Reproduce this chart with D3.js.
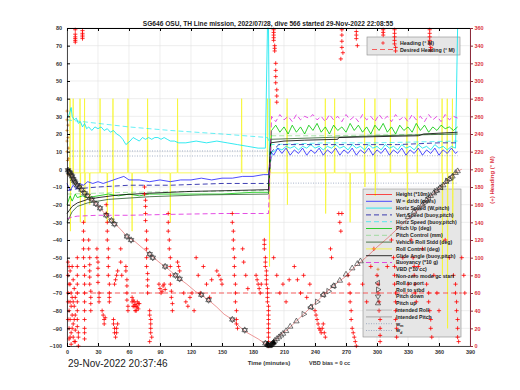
<!DOCTYPE html>
<html>
<head>
<meta charset="utf-8">
<script src="https://cdn.jsdelivr.net/npm/d3@7"></script>
<style>body{margin:0;background:#fff}</style>
</head>
<body>
<div id="chart"></div>
<script>
const WIDTH = 520, HEIGHT = 390;
const M = {left: 67, top: 28};
const PW = 403, PH = 318;

// ---- data ----
const xTicks = [0, 30, 60, 90, 120, 150, 180, 210, 240, 270, 300, 330, 360, 390];
const yTicks = [-100, -90, -80, -70, -60, -50, -40, -30, -20, -10, 0, 10, 20, 30, 40, 50, 60, 70, 80];
const rTicks = [0, 20, 40, 60, 80, 100, 120, 140, 160, 180, 200, 220, 240, 260, 280, 300, 320, 340, 360];

// depth (height *10m), time in minutes
const depth = [[0,0],[2,-1.5],[4,-3],[6,-5.5],[9,-8],[12,-10],[16,-13],[20,-15],[25,-17.5],[32,-22],[38,-26],[45,-30],
  [52,-34],[58,-38],[66,-41],[74,-45],[82,-49],[90,-53],[97,-56],[103,-59],[109,-62],[116,-65],[124,-69],[132,-72],
  [139,-75],[145,-78],[152,-82],[160,-85],[167,-89],[173,-92],[179,-94],[185,-96],[190,-98],[195,-99.5],[197,-100],
  [199,-98],[203,-96],[206,-94],[210,-92],[213,-91],[220,-87],[229,-82],[238,-77],[245,-73],[251,-69.5],[258,-66],
  [264,-63],[269,-61],[277,-56],[283,-53],[292,-48.5],[300,-44],[310,-39],[320,-33.5],[330,-28],[340,-23],[348,-17.5],
  [356,-13],[364,-9],[371,-5],[378,-1],[382,0]];

const diveMarks = [[1,-0.5],[2,-1.5],[3,-2],[4,-3],[5,-4],[6,-5.5],[7,-6.5],[8,-7.5],[10,-9],[12,-10],[14,-11.5],
  [17,-13.5],[20,-15],[24,-17],[28,-19.5],[32,-22],[38,-26],[43,-29],[46,-31],[58,-38],[62,-40],[80,-48],[83,-50],
  [95,-55],[105,-60],[109,-62],[130,-71],[137,-74],[160,-85],[172,-91],[192,-98.5]];
const pitchUpMarks = [[201,-97],[203,-96],[205,-95],[207,-94],[209,-93],[212,-91.5],[216,-89],[222,-86],[236,-78],
  [248,-71],[258,-66],[264,-63],[270,-59.5],[276,-56],[281,-53.5],[284,-52],[330,-27],[336,-24],[340,-22],[344,-20],
  [348,-17.5],[352,-15],[355,-13.5],[358,-12],[361,-10.5],[364,-9],[367,-7],[370,-5.5],[373,-4],[376,-2],[378,-1]];
const rollPortMarks = [[236,-78],[248,-71],[258,-66],[350,-16],[362,-10],[372,-4.5]];
const rollStbdMarks = [[229,-82],[242,-75],[253,-69],[346,-19],[357,-12.5],[368,-6.5]];
const bottomMarks = [[194,-99],[195,-99.5],[196,-100],[197,-99.5],[198,-99],[199,-98.5],[200,-98]];

// heading (deg M)
const heading = [[1,95],[1,80],[1,60],[2,40],[2,20],[2,8],[3,70],[3,50],[3,30],[4,15],[4,2],[5,90],[5,55],[5,35],
  [6,25],[6,10],[7,45],[7,65],[8,18],[8,5],[8,358],[8,353],[8,348],[8,344],[15,357],[15,352],[15,348],
  [10,100],[10,80],[10,60],[10,40],[10,22],[11,10],[11,0],[16,140],[16,120],[16,100],[17,80],[17,60],[17,40],[17,20],[17,8],
  [21,120],[22,100],[22,85],[22,70],[23,55],[23,40],[29,110],[30,95],[30,80],[31,60],[31,50],
  [34,40],[35,35],[36,30],[36,25],[37,32],[38,160],[39,140],[39,120],[40,100],[40,80],[41,60],[41,50],
  [45,30],[46,20],[47,10],[48,15],[49,25],[46,70],[48,80],[52,110],[52,95],[53,80],
  [57,90],[58,75],[58,60],[59,45],[59,40],[63,55],[64,45],[65,50],[66,40],[67,45],[68,50],[69,42],[70,48],
  [75,180],[76,165],[76,150],[77,130],[77,110],[77,90],[78,75],[78,60],[80,40],[81,30],[81,20],[82,10],
  [89,70],[90,65],[91,60],[92,62],[93,68],[94,70],[95,64],[98,150],[98,130],[99,110],[100,90],[100,70],[101,55],[102,40],
  [107,95],[108,90],[109,85],[113,60],[115,50],[117,45],[119,55],[121,60],[123,40],
  [125,100],[127,80],[129,60],[132,90],[135,70],[138,55],[140,75],[145,85],[147,80],[149,75],[150,70],
  [160,150],[161,130],[161,110],[162,90],[163,70],[163,50],[164,30],[165,20],[170,110],[171,95],[173,80],[175,65],
  [183,80],[184,75],[185,70],[186,65],[187,60],[188,70],
  [191,120],[191,110],[192,100],[192,90],[193,80],[193,70],[194,60],[194,50],[195,40],[195,30],[195,20],[195,10],[195,0],
  [200,358],[200,352],[200,346],[201,340],[201,334],[202,320],[202,305],[203,290],[203,276],
  [200,100],[203,80],[206,60],[209,70],[212,50],[215,75],[220,90],[223,75],[226,60],[229,80],[232,55],[235,70],
  [240,40],[242,30],[244,20],[246,15],[248,25],[250,10],[255,110],[256,100],[263,150],[264,140],[265,130],[266,150],
  [266,358],[266,345],[267,332],[265,325],[272,80],[274,60],[275,40],[276,20],[278,10],[280,0],[280,356],[280,348],[281,340],
  [286,70],[290,50],[294,90],[297,110],[300,80],[301,60],[302,40],[303,20],[303,5],[306,358],[306,352],
  [310,90],[314,120],[316,100],[317,80],[318,60],[318,40],[319,20],[317,358],[317,350],[317,342],[318,334],
  [325,100],[330,70],[333,120],[335,100],[336,80],[337,60],[340,90],[344,110],[348,70],[350,50],[352,30],[355,80],
  [358,60],[360,40],[351,358],[351,350],[351,342],[352,335],
  [366,120],[370,100],[374,80],[376,60],[377,40],[378,20],[379,5],[382,100],[384,80],[385,60],
  [1,50],[1,30],[2,90],[2,70],[3,10],[3,85],[4,45],[4,60],[5,20],[6,75],[6,50],[7,30],[7,5],[8,35],[8,55],
  [10,90],[10,70],[10,50],[10,30],[11,15],[16,130],[16,110],[17,90],[17,70],[17,50],[17,30],[17,15],
  [21,110],[22,92],[22,78],[23,62],[23,48],[29,100],[30,88],[30,72],[31,55],
  [38,150],[39,130],[40,110],[40,90],[41,70],[41,55],[45,25],[46,15],[48,20],[47,75],[49,85],
  [57,85],[58,68],[58,52],[63,50],[65,45],[67,40],[69,48],[64,52],[66,47],[68,44],
  [75,172],[76,158],[76,142],[77,120],[77,100],[78,82],[78,68],[80,35],[81,25],[81,15],[80,5],
  [98,140],[99,120],[100,100],[100,80],[101,62],[102,48],[160,140],[161,120],[162,100],[162,80],[163,60],[164,40],[164,25],
  [191,115],[192,95],[193,85],[193,75],[194,65],[194,55],[195,45],[195,35],[195,25],[195,15],[195,5],
  [241,35],[243,25],[245,18],[247,20],[249,15],[273,70],[274,50],[275,30],[277,15],[279,5],[301,70],[302,50],[303,30],
  [303,12],[317,90],[317,70],[318,50],[318,30],[319,10],[376,70],[377,50],[378,30],[378,10],[336,90],[337,70],[338,50],
  [350,60],[351,40],[352,20],[353,10],[200,355],[200,349],[201,337],[202,312],[202,298],[203,283],
  [266,352],[266,338],[280,352],[306,355],[317,354],[317,346],[318,338],[351,354],[351,346],[352,338],
  [8,350],[8,346],[15,354],[15,350]];
const desiredHeading = [[0,60],[382,60]];

const horizSpeedW = [[0,29],[2,31],[4,35],[5,30],[7,28],[9,29],[11,26],[13,27],[15,24],[17,26],[19,23],[21,24],[24,22],
  [27,24],[30,23],[33,24],[36,22],[39,23],[42,21],[45,22],[48,20],[51,19],[54,17],[57,14],[59,15],[61,16],[64,18],[67,17],
  [70,16],[73,18],[76,17],[79,18],[82,17],[85,18],[88,18],[91,17],[94,18],[97,17],[100,16],[104,16],[108,15],[115,15],
  [125,16],[135,15],[145,16],[155,15],[165,14],[175,13],[185,12],[192,12],[194,80],[195,80],[196,2],[198,10],
  [200,10],[204,12],[208,11],[212,13],[216,12],[220,13],[224,11],[228,13],[232,12],[236,14],[240,12],[244,13],[248,11],
  [252,13],[256,12],[260,14],[264,12],[268,13],[272,11],[276,14],[280,12],[284,13],[288,11],[292,14],[296,12],[300,13],
  [304,11],[308,14],[312,12],[316,13],[320,11],[324,14],[328,12],[332,13],[336,11],[340,14],[344,12],[348,13],[352,11],
  [356,14],[360,12],[364,13],[368,11],[372,13],[376,12],[378,80]];
const horizSpeedBuoy = [[0,28],[30,26],[60,24],[100,22],[150,20],[194,18],[197,14],[250,15],[300,15],[378,16]];
const wDzDt = [[0,-8],[3,-12],[6,-9],[9,-11],[12,-8],[16,-9],[20,-7],[25,-8],[30,-7],[35,-8],[40,-7],[45,-6],[50,-5],
  [55,-4],[60,-6],[70,-6],[80,-7],[90,-6],[100,-7],[110,-6],[120,-6],[130,-5],[140,-6],[150,-5],[160,-5],[170,-4],
  [180,-4],[190,-3],[195,-3],[197,10],[200,8],[204,12],[208,9],[212,12],[216,8],[220,11],[224,9],[228,12],[232,8],
  [236,11],[240,9],[244,12],[248,8],[252,11],[256,9],[260,12],[264,8],[268,11],[272,9],[276,12],[280,8],[284,11],
  [288,9],[292,12],[296,8],[300,11],[304,9],[308,12],[312,8],[316,11],[320,9],[324,12],[328,8],[332,11],[336,9],
  [340,12],[344,8],[348,11],[352,9],[356,12],[360,8],[364,11],[368,9],[372,12],[376,9],[378,10]];
const vertSpeedBuoy = [[0,-12],[10,-11],[30,-10],[60,-9],[100,-9],[150,-8],[195,-8],[198,10],[205,14],[240,14],
  [280,14],[320,14],[360,15],[378,15]];
const pitchUp = [[0,-20],[3,-15],[5,-18],[8,-14],[10,-16],[15,-15],[20,-16],[30,-15],[40,-14],[50,-15],[60,-14],[70,-15],
  [80,-14],[100,-14],[120,-14],[150,-14],[180,-13],[195,-13],[198,22],[202,25],[206,21],[210,24],[214,20],[218,25],
  [222,21],[226,24],[230,20],[234,25],[238,22],[242,26],[246,21],[250,24],[254,20],[258,25],[262,22],[266,24],[270,21],
  [274,26],[278,22],[282,25],[286,21],[290,24],[294,20],[298,25],[302,22],[306,26],[310,21],[314,24],[318,20],[322,25],
  [326,22],[330,24],[334,21],[338,26],[342,22],[346,25],[350,21],[354,24],[358,22],[362,25],[366,23],[370,24],[374,22],[378,24]];
const pitchControl = [[0,-14],[60,-13],[195,-12],[198,19],[250,19],[300,19.5],[378,20]];
const glideAngle = [[0,-25],[5,-21],[10,-19],[20,-17],[30,-16],[50,-14.5],[80,-13.5],[120,-12.5],[160,-12],[195,-11.5],
  [197,15],[210,16],[230,16.5],[262,17],[263,18],[300,18.5],[340,19],[345,20],[378,21]];
const rollStdd = [[0,-30],[5,-24],[10,-21],[20,-19],[40,-17],[80,-15.5],[130,-14.5],[195,-14],[197,17],[250,18],[300,19],[378,20]];
const buoyancy = [[0,-28],[5,-27],[10,-26.5],[30,-26],[60,-26],[100,-25.5],[150,-25],[195,-25],[198,30],[202,27],[206,31],
  [210,28],[214,30],[218,27],[222,31],[226,28],[230,30],[234,29],[238,31],[242,28],[246,30],[250,27],[254,31],[258,28],
  [262,30],[266,27],[270,31],[274,28],[278,30],[282,27],[286,31],[290,28],[294,30],[298,27],[302,31],[306,28],[310,30],
  [314,27],[318,31],[322,28],[326,30],[330,27],[334,31],[338,28],[342,30],[346,27],[350,31],[354,28],[358,30],[362,27],
  [366,31],[370,28],[374,30],[378,29]];
const rollControl = [[0,-2],[2.5,-2],[3,40],[3.3,-35],[3.6,-2],[5.7,-2],[6,40],[6.3,-2],[12.3,-2],[12.6,40],[12.9,-30],
  [13.2,-2],[16.7,-2],[17,40],[17.3,-30],[17.6,-2],[21.7,-2],[22,-20],[22.3,-2],[31.7,-2],[32,40],[32.3,-2],[38.7,-2],
  [39,-30],[39.3,-2],[44.2,-2],[44.5,40],[44.8,-30],[45.1,-2],[58.7,-2],[59,40],[59.3,-2],[62.7,-2],[63,-35],[63.3,-2],
  [77.7,-2],[78,40],[78.3,-2],[99.7,-2],[100,-30],[100.3,-2],[106.7,-2],[107,40],[107.3,-2],[168.7,-2],[169,40],
  [169.3,-2],[193.7,-2],[194,40],[194.3,-2],[195.7,-2],[196,-55],[196.5,40],[197,-2],[212.7,-2],[213,40],[213.3,-20],
  [213.6,-2],[249.7,-2],[250,40],[250.3,-25],[250.6,-2],[258.7,-2],[259,40],[259.3,-2],[273.7,-2],[274,-30],[274.3,-2],
  [287.7,-2],[288,40],[288.3,-10],[288.6,-2],[297.7,-2],[298,40],[298.3,-15],[298.6,-2],[312.7,-2],[313,40],[313.3,-2],
  [328.7,-2],[329,40],[329.3,-20],[329.6,-2],[338.7,-2],[339,40],[339.3,-2],[362.7,-2],[363,40],[363.3,-60],[363.6,-2],
  [367.7,-2],[368,40],[368.3,-90],[368.6,-2],[372.7,-2],[373,40],[373.3,-30],[373.6,-2],[378,-2]];
const vbd = [[0,33],[0,28],[0,22],[0,16],[0,10],[0.5,5],[0.5,0],[1,-3],[1,25],[1,18],[1.5,12],[1.5,6]];
const wRefA = [[0,10.4],[195,10.4]];
const wRefB = [[0,7.5],[378,7.7]];
const wRefC = [[197,-7.8],[378,-7.8]];

const legendLabels = ['Height (*10m)', 'W = dz/dt (cm/s)', 'Horiz Speed (W,pitch)', 'Vert Speed (buoy,pitch)',
  'Horiz Speed (buoy,pitch)', 'Pitch Up (deg)', 'Pitch Control (mm)', 'Vehicle Roll Stdd (deg)', 'Roll Control (deg)',
  'Glide Angle (buoy,pitch)', 'Buoyancy (*10 g)', 'VBD (*10 cc)', 'Non-zero mode gc start', 'Roll to port',
  'Roll to stbd', 'Pitch down', 'Pitch up', 'Intended Roll', 'Intended Pitch', 'w_m', 'w_d'];

// ---- styles ----
const RED = '#ff0000', CYAN = '#00e5ee', YEL = '#f6f632';
const legendStyle = [
  {c: RED, w: 0.7}, {c: '#1f1fff', w: 0.8}, {c: CYAN, w: 0.8}, {c: '#1010a0', w: 0.8, dash: '5,3'},
  {c: CYAN, w: 0.6, dash: '5,3'}, {c: '#00c800', w: 0.8}, {c: '#70d070', w: 0.6, dash: '5,3'}, {c: '#2a5a2a', w: 0.8},
  {c: YEL, w: 0.8}, {c: '#000', w: 0.8}, {c: '#dd22dd', w: 0.8, dash: '5,3'}, {m: '+', c: '#d08020'},
  {m: '.', c: '#333'}, {m: 'L'}, {m: 'R'}, {m: 'D'}, {m: 'U'}, {c: '#999', w: 0.6}, {c: '#777', w: 0.6},
  {c: '#8090b0', w: 0.7, dash: '1,1.5'}, {c: '#8090b0', w: 0.7, dash: '1,1.5'}];

const svg = d3.select('#chart').append('svg').attr('width', WIDTH).attr('height', HEIGHT)
  .style('font-family', 'Liberation Sans, Arial, sans-serif');
const g = svg.append('g').attr('transform', `translate(${M.left},${M.top})`);

const x = d3.scaleLinear().domain([0, 390]).range([0, PW]);
const yL = d3.scaleLinear().domain([-100, 80]).range([PH, 0]);
const yR = d3.scaleLinear().domain([0, 360]).range([PH, 0]);

// grid
g.append('g').selectAll('line').data(xTicks).join('line')
  .attr('x1', d => x(d)).attr('x2', d => x(d)).attr('y1', 0).attr('y2', PH)
  .attr('stroke', '#e2e2e2').attr('stroke-width', 0.6);
g.append('g').selectAll('line').data(yTicks).join('line')
  .attr('x1', 0).attr('x2', PW).attr('y1', d => yL(d)).attr('y2', d => yL(d))
  .attr('stroke', '#e2e2e2').attr('stroke-width', 0.6);

// legend boxes (beneath data)
g.append('rect').attr('x', 300).attr('y', 9).attr('width', 93).attr('height', 18)
  .attr('fill', '#e6e6e6').attr('stroke', '#8a8a8a').attr('stroke-width', 0.6);
g.append('rect').attr('x', 296).attr('y', 161).attr('width', 98).attr('height', 148)
  .attr('fill', '#e6e6e6').attr('stroke', '#8a8a8a').attr('stroke-width', 0.6);

const line = (sc) => d3.line().x(d => x(d[0])).y(d => sc(d[1]));
function drawLine(data, st, sc = yL) {
  g.append('path').datum(data).attr('d', line(sc)).attr('fill', 'none')
    .attr('stroke', st.c).attr('stroke-width', st.w).attr('stroke-dasharray', st.dash || null);
}

drawLine(rollControl, legendStyle[8]);
drawLine(horizSpeedBuoy, legendStyle[4]);
drawLine(horizSpeedW, legendStyle[2]);
drawLine(wDzDt, legendStyle[1]);
drawLine(vertSpeedBuoy, legendStyle[3]);
drawLine(pitchControl, legendStyle[6]);
drawLine(pitchUp, legendStyle[5]);
drawLine(rollStdd, legendStyle[7]);
drawLine(glideAngle, legendStyle[9]);
drawLine(buoyancy, legendStyle[10]);
drawLine(wRefA, legendStyle[19]);
drawLine(wRefB, legendStyle[19]);
drawLine(wRefC, legendStyle[20]);
drawLine(desiredHeading, {c: RED, w: 0.6, dash: '5,3'}, yR);
drawLine(depth, {c: '#e05050', w: 0.6});

// markers
const plus = r => `M${-r},0H${r}M0,${-r}V${r}`;
const tri = (dir, r) => ({
  U: `M0,${-r}L${r * 0.87},${r * 0.5}L${-r * 0.87},${r * 0.5}Z`,
  D: `M0,${r}L${r * 0.87},${-r * 0.5}L${-r * 0.87},${-r * 0.5}Z`,
  L: `M${-r},0L${r * 0.5},${-r * 0.87}L${r * 0.5},${r * 0.87}Z`,
  R: `M${r},0L${-r * 0.5},${-r * 0.87}L${-r * 0.5},${r * 0.87}Z`
}[dir]);

g.append('g').selectAll('path').data(heading).join('path')
  .attr('d', plus(2.1)).attr('transform', d => `translate(${x(d[0])},${yR(d[1])})`)
  .attr('stroke', RED).attr('stroke-width', 0.8);
g.append('g').selectAll('path').data(vbd).join('path')
  .attr('d', plus(1.6)).attr('transform', d => `translate(${x(d[0])},${yL(d[1])})`)
  .attr('stroke', '#d08020').attr('stroke-width', 0.7);

function marks(data, dir, fill) {
  g.append('g').selectAll('path').data(data).join('path')
    .attr('d', tri(dir, 3.2)).attr('transform', d => `translate(${x(d[0])},${yL(d[1])})`)
    .attr('fill', fill || 'none').attr('stroke', '#222').attr('stroke-width', 0.6);
}
marks(diveMarks, 'D');
marks(diveMarks, 'U');
marks(pitchUpMarks, 'U');
marks(rollPortMarks, 'L');
marks(rollStbdMarks, 'R');
marks(bottomMarks, 'U', '#000');

// axes
const fontTick = sel => sel.selectAll('text').attr('font-size', 5.5).attr('font-weight', 'bold');
const axL = g.append('g').call(d3.axisLeft(yL).tickValues(yTicks).tickSize(-3).tickPadding(5));
axL.call(fontTick); axL.selectAll('text').attr('fill', '#333');
const axB = g.append('g').attr('transform', `translate(0,${PH})`)
  .call(d3.axisBottom(x).tickValues(xTicks).tickSize(-3).tickPadding(4));
axB.call(fontTick); axB.selectAll('text').attr('fill', '#333');
g.append('g').call(d3.axisTop(x).tickValues(xTicks).tickSize(-3).tickFormat(''));
const axR = g.append('g').attr('transform', `translate(${PW},0)`)
  .call(d3.axisRight(yR).tickValues(rTicks).tickSize(3).tickPadding(1.5));
axR.call(fontTick);
axR.selectAll('text').attr('fill', '#dc2f3c');
axR.selectAll('line').attr('stroke', '#8c2c3c');
axR.select('.domain').attr('stroke', '#8c2c3c');
[axL, axB].forEach(a => a.select('.domain').attr('stroke', '#000').attr('stroke-width', 0.7));

// legend 1
g.append('path').attr('d', plus(1.8)).attr('transform', 'translate(316,15)').attr('stroke', RED).attr('stroke-width', 0.7);
g.append('line').attr('x1', 305).attr('x2', 328).attr('y1', 21.5).attr('y2', 21.5)
  .attr('stroke', RED).attr('stroke-width', 0.6).attr('stroke-dasharray', '5,3');
g.append('text').attr('x', 333).attr('y', 17).text('Heading (° M)')
  .attr('font-size', 5.3).attr('font-weight', 'bold').attr('fill', '#222');
g.append('text').attr('x', 333).attr('y', 23.5).text('Desired Heading (° M)')
  .attr('font-size', 5.3).attr('font-weight', 'bold').attr('fill', '#222');

// legend 2
const lg = g.append('g').attr('transform', 'translate(296,161)');
legendLabels.forEach((lab, i) => {
  const yy = 5.5 + i * 6.8, st = legendStyle[i];
  if (st.m === '+') {
    lg.append('path').attr('d', plus(1.6)).attr('transform', `translate(15,${yy})`).attr('stroke', st.c).attr('stroke-width', 0.7);
  } else if (st.m === '.') {
    lg.append('circle').attr('cx', 15).attr('cy', yy).attr('r', 0.6).attr('fill', st.c);
  } else if (st.m) {
    lg.append('path').attr('d', tri(st.m, 3)).attr('transform', `translate(15,${yy})`)
      .attr('fill', 'none').attr('stroke', '#222').attr('stroke-width', 0.6);
  } else {
    lg.append('line').attr('x1', 3).attr('x2', 29).attr('y1', yy).attr('y2', yy)
      .attr('stroke', st.c).attr('stroke-width', st.w).attr('stroke-dasharray', st.dash || null);
  }
  const t = lg.append('text').attr('x', 33).attr('y', yy + 1.8)
    .attr('font-size', 5.2).attr('font-weight', 'bold').attr('fill', '#222');
  if (lab.startsWith('w_')) {
    t.text('w');
    t.append('tspan').attr('font-size', 3.8).attr('dy', 1.2).text(lab.slice(2));
  } else t.text(lab);
});

// titles
svg.append('text').attr('x', 268).attr('y', 25.5).attr('text-anchor', 'middle')
  .attr('font-size', 6.6).attr('font-weight', 'bold').attr('fill', '#222')
  .text('SG646 OSU, TH Line mission, 2022/07/28, dive 566 started 29-Nov-2022 22:08:55');
svg.append('text').attr('x', 269).attr('y', 364.5).attr('text-anchor', 'middle')
  .attr('font-size', 6).attr('font-weight', 'bold').attr('fill', '#333').text('Time (minutes)');
svg.append('text').attr('x', 309).attr('y', 364.5)
  .attr('font-size', 5.5).attr('font-weight', 'bold').attr('fill', '#333').text('VBD bias = 0 cc');
svg.append('text').attr('x', 68).attr('y', 366.5)
  .attr('font-size', 10).attr('fill', '#222').text('29-Nov-2022 20:37:46');
svg.append('text').attr('transform', 'translate(494,180) rotate(-90)').attr('text-anchor', 'middle')
  .attr('font-size', 6).attr('font-weight', 'bold').attr('fill', '#dc2f3c').text('(+) Heading (° M)');
</script>
</body>
</html>
